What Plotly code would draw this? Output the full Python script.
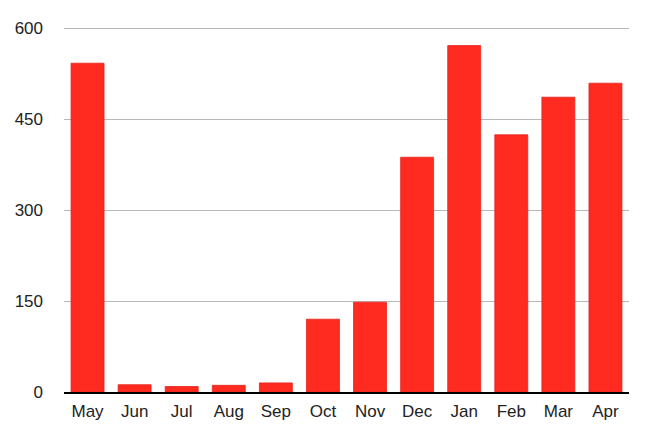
import plotly.graph_objects as go

months = ['May', 'Jun', 'Jul', 'Aug', 'Sep', 'Oct', 'Nov', 'Dec', 'Jan', 'Feb', 'Mar', 'Apr']
values = [542, 12, 9, 11, 15, 120, 148, 387, 571, 424, 486, 509]
y_ticks = [0, 150, 300, 450, 600]

fig = go.Figure()

fig.add_trace(go.Bar(
    x=months,
    y=values,
    marker=dict(color='#FF2A20', line=dict(color='#E5231B', width=0.8)),
    showlegend=False)
    )

# layout (page body adds an 8px offset, margins compensate for it)
fig.update_layout(
    width=650,
    height=437,
    margin=dict(l=56, r=29, t=17, b=53),
    plot_bgcolor='white',
    paper_bgcolor='white',
    bargap=0.3,
    font=dict(family='Liberation Sans, Arial, sans-serif', size=17, color='#222222'),
    xaxis=dict(
        showline=True,
        linecolor='black',
        linewidth=1.5,
        showgrid=False,
        ticks='',
        ticklabelstandoff=3,
        automargin=False,
    ),
    yaxis=dict(
        range=[0, 605],
        tickvals=y_ticks,
        showgrid=True,
        gridcolor='#B8B8B8',
        gridwidth=1.3,
        zeroline=False,
        showline=False,
        ticks='',
        ticklabelstandoff=20,
        automargin=False,
    ),
)

fig.write_html('out.html')
